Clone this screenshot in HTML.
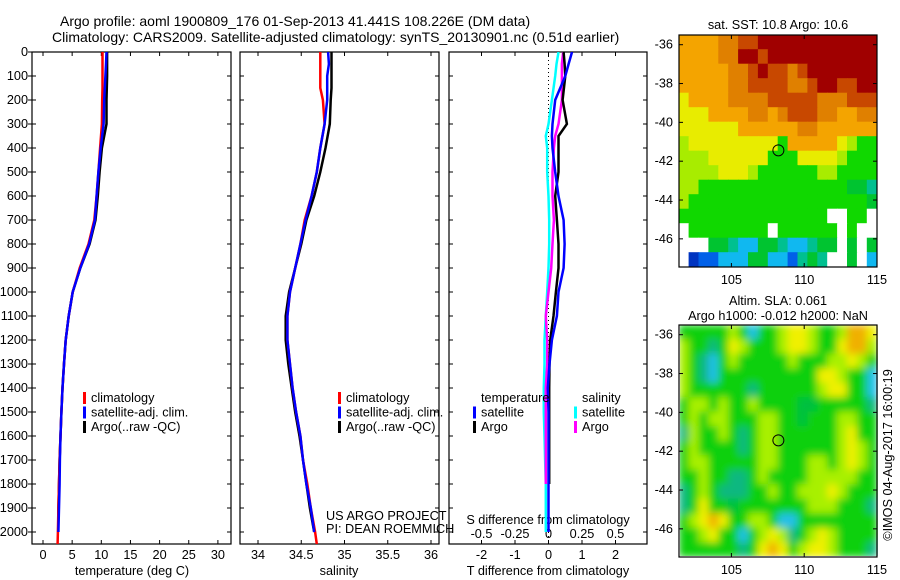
<!DOCTYPE html>
<html><head><meta charset="utf-8"><style>
html,body{margin:0;padding:0;background:#fff}
svg{display:block;font-family:"Liberation Sans",sans-serif;font-size:12.7px}
</style></head><body>
<svg id="chart" width="900" height="580" viewBox="0 0 900 580">
<defs>
<clipPath id="cp1"><rect x="32" y="52" width="199" height="492"/></clipPath>
<clipPath id="cp2"><rect x="240" y="52" width="199" height="492"/></clipPath>
<clipPath id="cp3"><rect x="449" y="52" width="198" height="492"/></clipPath>
<clipPath id="cm2"><rect x="680" y="325" width="198" height="231"/></clipPath>
<filter id="blur" x="-5%" y="-5%" width="110%" height="110%"><feGaussianBlur stdDeviation="4" edgeMode="duplicate"/></filter>
</defs>
<text x="60" y="26" style="font-size:14px">Argo profile: aoml 1900809_176 01-Sep-2013 41.441S 108.226E (DM data)</text>
<text x="52" y="42" style="font-size:14px">Climatology: CARS2009. Satellite-adjusted climatology: synTS_20130901.nc (0.51d earlier)</text>
<g id="g1"></g>
<g id="g2"></g>
<g id="g3"></g>
<g id="m1"></g>
<g id="m2"></g>
<text x="326" y="520">US ARGO PROJECT</text>
<text x="326" y="533">PI: DEAN ROEMMICH</text>
<text transform="translate(892,455) rotate(-90)" text-anchor="middle">©IMOS 04-Aug-2017 16:00:19</text>
</svg>
<script>
const depthTicks=[0,100,200,300,400,500,600,700,800,900,1000,1100,1200,1300,1400,1500,1600,1700,1800,1900,2000];
const tempTicks=[0,5,10,15,20,25,30];
const salTicks=[34,34.5,35,35.5,36];
const tdTicks=[-2,-1,0,1,2];
const sdTicks=[-0.5,-0.25,0,0.25,0.5];
const depths=[0,50,100,150,200,300,400,500,600,700,800,900,1000,1100,1200,1300,1400,1500,1600,1700,1800,1900,2000,2050];
const climT=[10.2,10.2,10.2,10.2,10.15,10.1,9.8,9.5,9.2,8.8,7.8,6.3,5.1,4.4,3.9,3.6,3.35,3.15,3.0,2.85,2.75,2.65,2.55,2.5];
const satT=[10.9,10.8,10.7,10.6,10.5,10.4,9.9,9.5,9.2,8.9,7.9,6.4,5.1,4.4,3.9,3.6,3.35,3.15,3.0,2.9,2.85,2.75,2.65];
const argoT=[11.0,11.0,11.0,10.95,10.9,10.9,10.1,9.7,9.4,9.0,8.0,6.4,5.1,4.4,3.9,3.6,3.35,3.15,3.0,2.85,2.75,2.65,2.6];
const climS=[34.72,34.72,34.72,34.72,34.75,34.77,34.72,34.68,34.62,34.54,34.49,34.43,34.37,34.34,34.34,34.37,34.40,34.44,34.49,34.52,34.57,34.61,34.66,34.68];
const satS=[34.81,34.82,34.80,34.80,34.80,34.77,34.72,34.68,34.62,34.55,34.49,34.43,34.37,34.34,34.34,34.37,34.40,34.44,34.49,34.52,34.56,34.61,34.65];
const argoS=[34.85,34.85,34.85,34.85,34.84,34.83,34.78,34.72,34.65,34.56,34.50,34.43,34.36,34.32,34.32,34.35,34.39,34.43,34.48,34.52,34.56,34.60,34.65];
const dDepths=[0,50,100,200,300,350,400,500,600,700,800,900,1000,1100,1200,1300,1400,1500,1600,1700,1800,1900,2000];
const argoTd=[0.45,0.48,0.5,0.42,0.55,0.3,0.3,0.3,0.2,0.25,0.3,0.3,0.22,0.15,0.05,0.03,0.02,0.02,0.02,0.02,0.02];
const satTd=[0.7,0.6,0.5,0.2,0.12,0.1,0.12,0.2,0.3,0.45,0.48,0.45,0.3,0.25,0.1,0.03,-0.02,0,0,0,0,0,0];
const argoSd=[0.11,0.1,0.1,0.1,0.075,0.05,0.04,0.03,0.03,0.04,0.03,0.02,0.0,-0.02,-0.01,-0.01,-0.02,-0.02,-0.02,-0.02,-0.02];
const satSd=[0.075,0.06,0.05,0.025,0.0,-0.02,-0.01,-0.01,0.0,0.005,0.005,0.0,-0.01,-0.02,-0.03,-0.03,-0.035,-0.035,-0.03,-0.025,-0.02,-0.02,-0.02];
const sstGrid=[
"OOOOoorrRRRRRRRRRRRR",
"OOOOooRRrRRRRRRRRRRR",
"OOOOOoorRrrorRRRRRRR",
"OOOOOoorrrroorRRrrRR",
"yOOOOoooorrrrrooorrr",
"yyyOOOOooOorrrooOOoo",
"yyyyyyOOOOOOooOOOOOO",
"lyyyyyyyyygOOOOOylgg",
"lllyyyyyygggyyyylggg",
"llllyyylggggggllgggg",
"llgggggggggggggggGGt",
"lggggggggggggggggggG",
"gggggggggggggggwwggw",
"wggggggggwggggggwgww",
"wwwGGtccGGtcctGGwGwG",
"wBbbcccGGccbtGtwwGwc"];
const slaGrid=[
"GGGGGlGcGGlyylGGlOOy",
"lGGtGylGGGlyylGGyOOl",
"lGtcGlGGGGGlGGGllylG",
"lGtcGGGGGGGGGGyylGGc",
"lGGGGGGtGGGGGGlyyGGc",
"GllGlGGlGGGGddGGGGGt",
"GlGllGGGllGGdGGGllGG",
"tlGGlGtGllGGGGGGlyGG",
"GlGGGGtGllGGGGGGlylG",
"GllGGGGGllGGGllGlylG",
"GGlGGttGlGGGGlllllGG",
"tGlGtttGGlGGlllylGGG",
"tGyGGdGGGGGGGlllGGGt",
"GlyOyGGllGccGGGGGGGG",
"GGlyGGcGlyltGlylGGGG",
"GGGGGGtGyOyGlyylGGGt"];
const sstCol={R:"#a00000",r:"#c84800",o:"#e08000",O:"#f4a400",y:"#e8ec00",l:"#a8ec00",g:"#10d800",G:"#00c430",t:"#00c090",c:"#10b8f0",b:"#0060e8",B:"#0034c0",w:"#ffffff"};
const slaCol={G:"#10d010",l:"#a8f000",y:"#f0f000",O:"#f0b000",t:"#10b880",d:"#00c040",c:"#20c0e8"};
const argoLon=108.226, argoLat=-41.441;

const NS="http://www.w3.org/2000/svg";
function mk(parent,tag,attrs){const e=document.createElementNS(NS,tag);for(const k in attrs)e.setAttribute(k,attrs[k]);parent.appendChild(e);return e;}
const Y0=52, PXD=0.24;
function yD(d){return Y0+d*PXD;}
const xT=t=>43+t*5.83, xS=s=>258+(s-34)*86.5, xTd=v=>548.5+v*33.5, xSd=v=>548.5+v*134;

function frame(g,x0,x1,name){
  const r=mk(g,'rect',{x:x0,y:52,width:x1-x0,height:492,fill:'none',stroke:'#000','stroke-width':1.2});
  
  
  depthTicks.forEach(d=>{mk(g,'line',{x1:x0,x2:x0+4,y1:yD(d),y2:yD(d),stroke:'#000'});mk(g,'line',{x1:x1,x2:x1-4,y1:yD(d),y2:yD(d),stroke:'#000'});});
}
function line(g,xs,ds,vals,fx,color,clip,name){
  let p='';vals.forEach((v,i)=>{p+=(i?'L':'M')+fx(v).toFixed(1)+','+yD(ds[i]).toFixed(1);});
  const e=mk(g,'path',{d:p,fill:'none',stroke:color,'stroke-width':2.5,'clip-path':'url(#'+clip+')'});
  
  
}
function legend(g,x,y,items){
  items.forEach((it,i)=>{
    if(it[1])mk(g,'rect',{x:x,y:y+i*14.5-10,width:3,height:12,fill:it[1]});
    const t=mk(g,'text',{x:x+8,y:y+i*14.5});t.textContent=it[0];
    
    
  });
}
const g1=document.getElementById('g1');
frame(g1,32,231,'temperature');
depthTicks.forEach(d=>{const t=mk(g1,'text',{x:28,y:yD(d)+4,'text-anchor':'end'});t.textContent=d;});
depthTicks.forEach(d=>mk(g1,'line',{x1:28,x2:32,y1:yD(d),y2:yD(d),stroke:'#000'}));
tempTicks.forEach(v=>{mk(g1,'line',{x1:xT(v),x2:xT(v),y1:52,y2:56,stroke:'#000'});mk(g1,'line',{x1:xT(v),x2:xT(v),y1:544,y2:540,stroke:'#000'});const t=mk(g1,'text',{x:xT(v),y:559,'text-anchor':'middle'});t.textContent=v;});
{const t=mk(g1,'text',{x:132,y:575,'text-anchor':'middle'});t.textContent='temperature (deg C)';}
line(g1,null,depths,argoT,xT,'#000','cp1','argo-temperature-line');
line(g1,null,depths,climT,xT,'#f00','cp1','climatology-temperature-line');
line(g1,null,depths,satT,xT,'#00f','cp1','satellite-temperature-line');
legend(g1,83,402,[['climatology','#f00'],['satellite-adj. clim.','#00f'],['Argo(..raw -QC)','#000']]);
const g2=document.getElementById('g2');
frame(g2,240,439,'salinity');
salTicks.forEach(v=>{mk(g2,'line',{x1:xS(v),x2:xS(v),y1:52,y2:56,stroke:'#000'});mk(g2,'line',{x1:xS(v),x2:xS(v),y1:544,y2:540,stroke:'#000'});const t=mk(g2,'text',{x:xS(v),y:559,'text-anchor':'middle'});t.textContent=v;});
{const t=mk(g2,'text',{x:339,y:575,'text-anchor':'middle'});t.textContent='salinity';}
line(g2,null,depths,argoS,xS,'#000','cp2','argo-salinity-line');
line(g2,null,depths,climS,xS,'#f00','cp2','climatology-salinity-line');
line(g2,null,depths,satS,xS,'#00f','cp2','satellite-salinity-line');
legend(g2,338,402,[['climatology','#f00'],['satellite-adj. clim.','#00f'],['Argo(..raw -QC)','#000']]);
const g3=document.getElementById('g3');
frame(g3,449,647,'difference');
mk(g3,'line',{x1:548.5,x2:548.5,y1:52,y2:544,stroke:'#000','stroke-dasharray':'1,3'});
tdTicks.forEach(v=>{mk(g3,'line',{x1:xTd(v),x2:xTd(v),y1:52,y2:56,stroke:'#000'});mk(g3,'line',{x1:xTd(v),x2:xTd(v),y1:544,y2:540,stroke:'#000'});const t=mk(g3,'text',{x:xTd(v),y:559,'text-anchor':'middle'});t.textContent=v;});
sdTicks.forEach(v=>{const t=mk(g3,'text',{x:xSd(v),y:538,'text-anchor':'middle'});t.textContent=v;});
{const t=mk(g3,'text',{x:548,y:575,'text-anchor':'middle'});t.textContent='T difference from climatology';}
{const t=mk(g3,'text',{x:548,y:524,'text-anchor':'middle'});t.textContent='S difference from climatology';}
line(g3,null,dDepths,satSd,xSd,'#0ff','cp3','satellite-sal-diff-line');
line(g3,null,dDepths,argoSd,xSd,'#f0f','cp3','argo-sal-diff-line');
line(g3,null,dDepths,argoTd,xTd,'#000','cp3','argo-temp-diff-line');
line(g3,null,dDepths,satTd,xTd,'#00f','cp3','satellite-temp-diff-line');
legend(g3,473,402,[['temperature',null],['satellite','#00f'],['Argo','#000']]);
legend(g3,574,402,[['salinity',null],['satellite','#0ff'],['Argo','#f0f']]);
function map(id,top,grid,cols,blur,title1,title2){
  const g=document.getElementById(id);
  const L=679,R=877,B=top+232,lon0=101.4,lon1=115,lat0=-35.5,lat1=-47.45;
  const lx=v=>L+(v-lon0)/(lon1-lon0)*(R-L), ly=v=>top+(v-lat0)/(lat1-lat0)*(B-top);
  const cg=mk(g,'g',blur?{'clip-path':'url(#cm2)'}:{});
  const inner=mk(cg,'g',blur?{filter:'url(#blur)'}:{});
  const nr=grid.length,nc=grid[0].length,cw=(R-L)/nc,ch=(B-top)/nr;
  grid.forEach((row,r)=>{for(let c=0;c<nc;c++){const e=mk(inner,'rect',{x:L+c*cw-0.3,y:top+r*ch-0.3,width:cw+0.6,height:ch+0.6,fill:cols[row[c]]});
    
    }});
  mk(g,'rect',{x:L,y:top,width:R-L,height:B-top,fill:'none',stroke:'#000','stroke-width':1.2});
  [105,110,115].forEach(v=>{mk(g,'line',{x1:lx(v),x2:lx(v),y1:top,y2:top+4,stroke:'#000'});mk(g,'line',{x1:lx(v),x2:lx(v),y1:B,y2:B-4,stroke:'#000'});const t=mk(g,'text',{x:lx(v),y:B+17,'text-anchor':'middle'});t.textContent=v;});
  [-36,-38,-40,-42,-44,-46].forEach(v=>{mk(g,'line',{x1:L,x2:L+4,y1:ly(v),y2:ly(v),stroke:'#000'});mk(g,'line',{x1:R,x2:R-4,y1:ly(v),y2:ly(v),stroke:'#000'});const t=mk(g,'text',{x:L-6,y:ly(v)+4,'text-anchor':'end'});t.textContent=v;});
  const c=mk(g,'circle',{cx:lx(argoLon),cy:ly(argoLat),r:5.5,fill:'none',stroke:'#000','stroke-width':1});
  
  
  const t1=mk(g,'text',{x:778,y:title2?top-20:top-6,'text-anchor':'middle'});t1.textContent=title1;
  if(title2){const t2=mk(g,'text',{x:778,y:top-5,'text-anchor':'middle'});t2.textContent=title2;}
}
map('m1',35,sstGrid,sstCol,false,'sat. SST: 10.8 Argo: 10.6');
map('m2',325,slaGrid,slaCol,true,'Altim. SLA: 0.061','Argo h1000: -0.012 h2000: NaN');
</script>
</body></html>
